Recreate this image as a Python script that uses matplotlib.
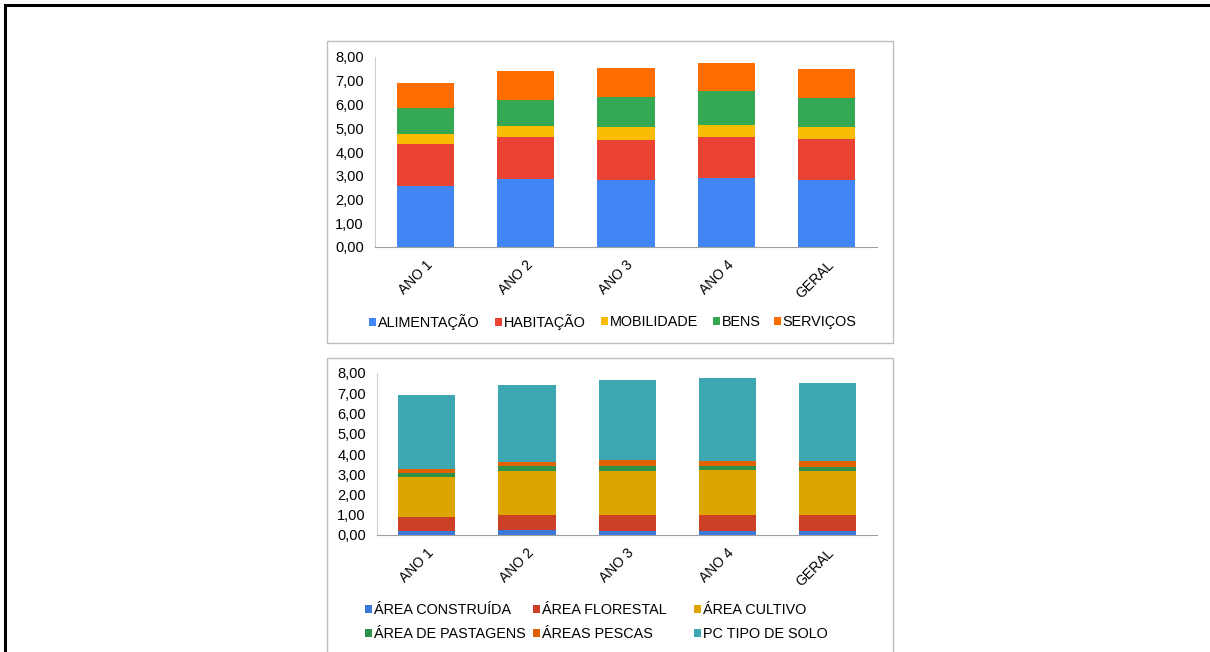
import matplotlib
matplotlib.use("Agg")
import matplotlib.pyplot as plt
from matplotlib.patches import Rectangle, Patch
import numpy as np

plt.rcParams['font.family'] = ['Liberation Sans', 'DejaVu Sans']

categories = ["ANO 1", "ANO 2", "ANO 3", "ANO 4", "GERAL"]

# Chart 1: consumption components
alimentacao = [2.57, 2.86, 2.83, 2.89, 2.83]
habitacao = [1.78, 1.79, 1.67, 1.73, 1.73]
mobilidade = [0.41, 0.44, 0.54, 0.50, 0.51]
bens = [1.11, 1.11, 1.28, 1.45, 1.22]
servicos = [1.05, 1.22, 1.22, 1.18, 1.19]
series1 = [("ALIMENTAÇÃO", alimentacao), ("HABITAÇÃO", habitacao),
           ("MOBILIDADE", mobilidade), ("BENS", bens), ("SERVIÇOS", servicos)]
colors1 = ["#4285F4", "#EA4335", "#FBBC04", "#34A853", "#FF6D01"]

# Chart 2: land-type components
area_construida = [0.21, 0.25, 0.21, 0.21, 0.21]
area_florestal = [0.66, 0.74, 0.76, 0.78, 0.78]
area_cultivo = [1.99, 2.19, 2.21, 2.22, 2.15]
area_pastagens = [0.20, 0.21, 0.24, 0.21, 0.23]
areas_pescas = [0.20, 0.21, 0.28, 0.25, 0.27]
pc_tipo_solo = [3.64, 3.82, 3.94, 4.10, 3.85]
series2 = [("ÁREA CONSTRUÍDA", area_construida), ("ÁREA FLORESTAL", area_florestal),
           ("ÁREA CULTIVO", area_cultivo), ("ÁREA DE PASTAGENS", area_pastagens),
           ("ÁREAS PESCAS", areas_pescas), ("PC TIPO DE SOLO", pc_tipo_solo)]
colors2 = ["#3C78D8", "#CC4125", "#DDA500", "#2E9147", "#E06200", "#3DA8B1"]

W, H = 1210, 652
fig = plt.figure(figsize=(W / 100, H / 100), dpi=100)

def fx(x):
    return x / W

def fy(y):
    return 1 - y / H

# outer black frame
fig.patches.append(Rectangle((fx(5), fy(700)), fx(1300) - fx(5), fy(5) - fy(700),
                             transform=fig.transFigure, fill=False,
                             edgecolor="black", linewidth=2.2, zorder=0))
# chart boxes
for (y0, y1) in [(41, 343), (358, 700)]:
    fig.patches.append(Rectangle((fx(327), fy(y1)), fx(893) - fx(327), fy(y0) - fy(y1),
                                 transform=fig.transFigure, fill=False,
                                 edgecolor="#BDBDBD", linewidth=1.0, zorder=0))

def draw(ax, series, colors):
    x = np.arange(len(categories))
    bottom = np.zeros(len(categories))
    handles = []
    for (name, vals), c in zip(series, colors):
        v = np.array(vals)
        ax.bar(x, v, 0.57, bottom=bottom, color=c, edgecolor="none", label=name)
        bottom += v
        handles.append(Patch(facecolor=c, label=name))
    ax.set_xlim(-0.5, len(categories) - 0.5)
    ax.set_ylim(0, 8)
    ax.set_yticks(np.arange(0, 9, 1))
    ax.set_yticklabels([f"{v:.2f}".replace(".", ",") for v in np.arange(0, 9, 1)], fontsize=10.5)
    ax.set_xticks(x)
    ax.set_xticklabels(categories, rotation=45, ha="right", rotation_mode="anchor", fontsize=10)
    ax.tick_params(axis="y", length=0, pad=8)
    ax.tick_params(axis="x", length=0, pad=8)
    for s in ["top", "right"]:
        ax.spines[s].set_visible(False)
    ax.spines["left"].set_color("#D0D0D0")
    ax.spines["bottom"].set_color("#A0A0A0")
    return handles

def entry(h, x, y, fs):
    fig.legend(handles=[h], loc="center left", bbox_to_anchor=(fx(x), fy(y)),
               frameon=False, fontsize=fs, handlelength=0.5, handleheight=0.5,
               handletextpad=0.1, borderpad=0, borderaxespad=0)

ax1 = fig.add_axes([fx(375), fy(247), fx(877) - fx(375), fy(57) - fy(247)])
h1 = draw(ax1, series1, colors1)
for h, x in zip(h1, [369, 495, 601, 713, 774]):
    entry(h, x, 322, 10.4)

ax2 = fig.add_axes([fx(377), fy(535), fx(877) - fx(377), fy(373) - fy(535)])
h2 = draw(ax2, series2, colors2)
pos2 = [(365, 610), (533, 610), (694, 610), (365, 634), (533, 634), (694, 634)]
for h, (x, y) in zip(h2, pos2):
    entry(h, x, y, 10.4)

fig.savefig("out.png", dpi=100)
